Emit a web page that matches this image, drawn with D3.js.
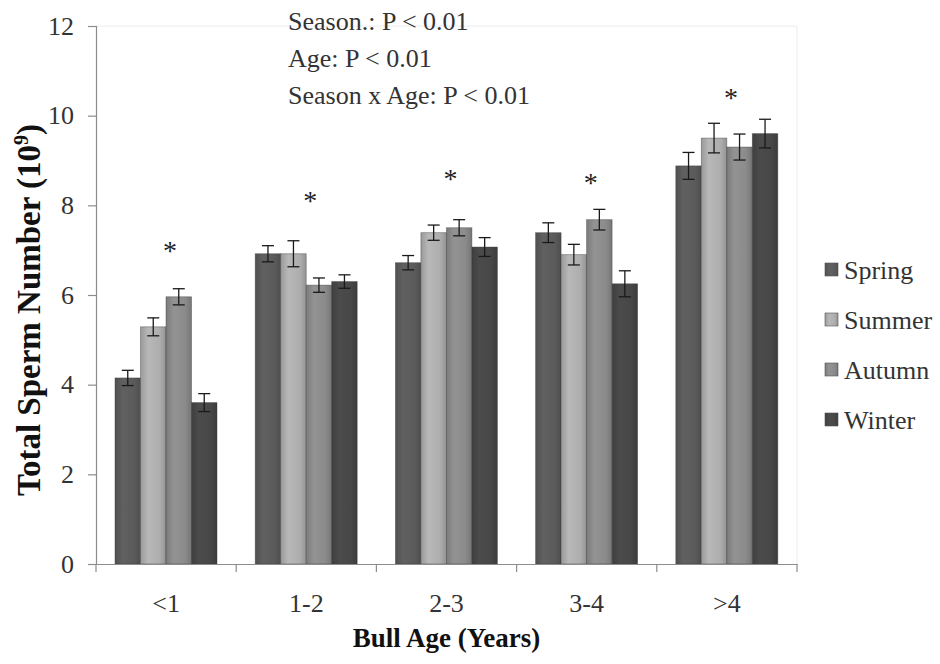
<!DOCTYPE html>
<html>
<head>
<meta charset="utf-8">
<script src="https://cdn.jsdelivr.net/npm/d3@7/dist/d3.min.js"></script>
<style>
  body { margin: 0; background: #fff; }
  svg text { font-family: "Liberation Serif", "Times New Roman", Tinos, "DejaVu Serif", serif; }
</style>
</head>
<body>
<div id="chart"></div>
<script>
// Data.
var ages = ["<1", "1-2", "2-3", "3-4", ">4"],
    seasons = ["Spring", "Summer", "Autumn", "Winter"];

// Mean total sperm number (10^9), one array per season, in age order.
var spring = [4.15, 6.92, 6.72, 7.39, 8.88],
    summer = [5.29, 6.92, 7.39, 6.90, 9.50],
    autumn = [5.96, 6.22, 7.50, 7.68, 9.30],
    winter = [3.60, 6.30, 7.07, 6.25, 9.60];

// Standard errors.
var springErr = [0.17, 0.18, 0.16, 0.22, 0.30],
    summerErr = [0.20, 0.29, 0.17, 0.23, 0.33],
    autumnErr = [0.18, 0.16, 0.18, 0.23, 0.29],
    winterErr = [0.20, 0.15, 0.21, 0.29, 0.32];

// Height of the significance asterisk above each age group.
var starLevel = [7.1, 8.2, 8.7, 8.6, 10.5];

var yTicks = [0, 2, 4, 6, 8, 10, 12];

var notes = ["Season.: P < 0.01", "Age: P < 0.01", "Season x Age: P < 0.01"];

var values = [spring, summer, autumn, winter],
    errors = [springErr, summerErr, autumnErr, winterErr];

// Layout.
var width = 940,
    height = 664,
    margin = {left: 96, top: 26, right: 143, bottom: 100},
    plotW = width - margin.left - margin.right,
    plotH = height - margin.top - margin.bottom;

var serif = "'Liberation Serif', 'Times New Roman', Tinos, 'DejaVu Serif', serif";

var colors = ["#5b5b5b", "#aeaeae", "#8b8b8b", "#474747"];

var svg = d3.select("#chart").append("svg")
    .attr("width", width)
    .attr("height", height);

// Horizontal gradients to mimic the shaded bars.
var defs = svg.append("defs");
colors.forEach(function (c, i) {
  var base = d3.color(c);
  var g = defs.append("linearGradient")
      .attr("id", "grad" + i)
      .attr("x1", "0").attr("x2", "1").attr("y1", "0").attr("y2", "0");
  g.append("stop").attr("offset", "0%").attr("stop-color", base.darker(0.35));
  g.append("stop").attr("offset", "30%").attr("stop-color", base.brighter(0.15));
  g.append("stop").attr("offset", "75%").attr("stop-color", base);
  g.append("stop").attr("offset", "100%").attr("stop-color", base.darker(0.45));
});

var g = svg.append("g")
    .attr("transform", "translate(" + margin.left + "," + margin.top + ")");

var x0 = d3.scaleBand().domain(ages).range([0, plotW]),
    x1 = d3.scaleBand().domain(seasons).range([19, 121]),
    y = d3.scaleLinear().domain([0, 12]).range([plotH, 0]);

// Faint plot border (top and right).
g.append("path")
    .attr("d", "M0,0H" + plotW + "V" + plotH)
    .attr("fill", "none")
    .attr("stroke", "#ececec");

// Bars.
var groups = g.selectAll("g.age")
    .data(ages)
  .enter().append("g")
    .attr("class", "age")
    .attr("transform", function (d) { return "translate(" + x0(d) + ",0)"; });

function rows(d, ai) {
  return seasons.map(function (s, si) {
    return {season: s, si: si, value: values[si][ai], err: errors[si][ai]};
  });
}

groups.selectAll("rect")
    .data(rows)
  .enter().append("rect")
    .attr("x", function (d) { return x1(d.season); })
    .attr("y", function (d) { return y(d.value); })
    .attr("width", x1.bandwidth())
    .attr("height", function (d) { return plotH - y(d.value); })
    .attr("fill", function (d) { return "url(#grad" + d.si + ")"; })
    .attr("stroke", "#3a3a3a")
    .attr("stroke-opacity", 0.5)
    .attr("stroke-width", 0.8);

// Error bars.
var eb = groups.selectAll("g.err")
    .data(rows)
  .enter().append("g")
    .attr("class", "err")
    .attr("stroke", "#1a1a1a")
    .attr("stroke-width", 1.3);

eb.append("line")
    .attr("x1", function (d) { return x1(d.season) + x1.bandwidth() / 2; })
    .attr("x2", function (d) { return x1(d.season) + x1.bandwidth() / 2; })
    .attr("y1", function (d) { return y(d.value + d.err); })
    .attr("y2", function (d) { return y(d.value - d.err); });

[1, -1].forEach(function (sign) {
  eb.append("line")
      .attr("x1", function (d) { return x1(d.season) + x1.bandwidth() / 2 - 6; })
      .attr("x2", function (d) { return x1(d.season) + x1.bandwidth() / 2 + 6; })
      .attr("y1", function (d) { return y(d.value + sign * d.err); })
      .attr("y2", function (d) { return y(d.value + sign * d.err); });
});

// Asterisks.
g.selectAll("text.star")
    .data(ages)
  .enter().append("text")
    .attr("class", "star")
    .attr("x", function (d) { return x0(d) + x0.bandwidth() / 2 + 4; })
    .attr("y", function (d, i) { return y(starLevel[i]) + 14; })
    .attr("text-anchor", "middle")
    .attr("fill", "#222")
    .style("font-family", serif)
    .style("font-size", "28px")
    .text("*");

// Axes.
var yAxis = g.append("g")
    .call(d3.axisLeft(y).tickValues(yTicks).tickSize(8).tickPadding(14));
var xAxis = g.append("g")
    .attr("transform", "translate(0," + plotH + ")")
    .call(d3.axisBottom(x0).tickSize(0).tickPadding(30));

// Tick marks at band boundaries for the category axis.
xAxis.selectAll("line.bound")
    .data(d3.range(ages.length + 1))
  .enter().append("line")
    .attr("class", "bound")
    .attr("x1", function (i) { return i * x0.step(); })
    .attr("x2", function (i) { return i * x0.step(); })
    .attr("y1", 0).attr("y2", 8);

[yAxis, xAxis].forEach(function (a) {
  a.attr("font-family", null);
  a.selectAll("path, line").attr("stroke", "#8c8c8c").attr("stroke-width", 1.2);
  a.selectAll("text")
      .style("font-family", serif)
      .style("font-size", "26px")
      .attr("fill", "#333");
});

// Axis titles.
var yTitle = svg.append("text")
    .attr("transform", "translate(40,310) rotate(-90)")
    .attr("text-anchor", "middle")
    .attr("fill", "#111")
    .style("font-family", serif)
    .style("font-size", "33px")
    .style("font-weight", "bold")
    .text("Total Sperm Number (10");
yTitle.append("tspan")
    .attr("dy", -12)
    .style("font-size", "20px")
    .text("9");
yTitle.append("tspan")
    .attr("dy", 12)
    .text(")");

svg.append("text")
    .attr("x", margin.left + plotW / 2)
    .attr("y", 647)
    .attr("text-anchor", "middle")
    .attr("fill", "#111")
    .style("font-family", serif)
    .style("font-size", "27px")
    .style("font-weight", "bold")
    .text("Bull Age (Years)");

// Statistics annotation.
svg.selectAll("text.note")
    .data(notes)
  .enter().append("text")
    .attr("class", "note")
    .attr("x", 288)
    .attr("y", function (d, i) { return 30 + i * 37; })
    .attr("fill", "#333")
    .style("font-family", serif)
    .style("font-size", "26px")
    .text(function (d) { return d; });

// Legend.
var legend = svg.selectAll("g.legend")
    .data(seasons)
  .enter().append("g")
    .attr("class", "legend")
    .attr("transform", function (d, i) { return "translate(825," + (270 + i * 50) + ")"; });

legend.append("rect")
    .attr("x", 0).attr("y", -7)
    .attr("width", 13).attr("height", 13)
    .attr("fill", function (d, i) { return "url(#grad" + i + ")"; })
    .attr("stroke", "#555")
    .attr("stroke-width", 0.6);

legend.append("text")
    .attr("x", 19)
    .attr("y", 9)
    .attr("fill", "#333")
    .style("font-family", serif)
    .style("font-size", "26px")
    .text(function (d) { return d; });
</script>
</body>
</html>
